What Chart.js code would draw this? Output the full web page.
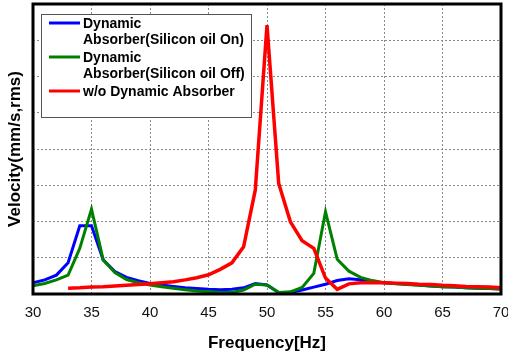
<!DOCTYPE html>
<html>
<head>
<meta charset="utf-8">
<script src="https://cdn.jsdelivr.net/npm/chart.js@4"></script>
<style>
  html, body { margin: 0; padding: 0; background: #fff; }
  #wrap { width: 508px; height: 360px; }
</style>
</head>
<body>
<div id="wrap"><canvas id="chart"></canvas></div>
<script>
const freqs = [30, 31, 32, 33, 34, 35, 36, 37, 38, 39, 40, 41, 42, 43, 44, 45, 46, 47, 48, 49,
  50, 51, 52, 53, 54, 55, 56, 57, 58, 59, 60, 61, 62, 63, 64, 65, 66, 67, 68, 69, 70];

const oilOn = [0.31, 0.39, 0.52, 0.86, 1.88, 1.88, 0.94, 0.62, 0.46, 0.37, 0.29, 0.25, 0.21, 0.17, 0.15, 0.13, 0.12, 0.13, 0.17, 0.29,
  0.25, 0.04, 0.04, 0.11, 0.19, 0.27, 0.37, 0.42, 0.39, 0.34, 0.31, 0.29, 0.27, 0.25, 0.22, 0.20, 0.19, 0.17, 0.16, 0.15, 0.14];

const oilOff = [0.23, 0.29, 0.39, 0.52, 1.26, 2.34, 0.94, 0.59, 0.40, 0.31, 0.25, 0.20, 0.16, 0.12, 0.08, 0.06, 0.04, 0.04, 0.11, 0.27,
  0.25, 0.04, 0.06, 0.18, 0.57, 2.27, 0.96, 0.63, 0.46, 0.37, 0.31, 0.28, 0.26, 0.24, 0.22, 0.20, 0.19, 0.17, 0.16, 0.15, 0.14];

// without absorber: measured from 33 Hz
const noAbsFreqs = freqs.slice(3);
const noAbs = [0.16, 0.17, 0.19, 0.20, 0.22, 0.24, 0.26, 0.28, 0.31, 0.34, 0.39, 0.45, 0.53, 0.68, 0.86, 1.30, 2.87,
  7.42, 3.05, 1.99, 1.47, 1.26, 0.44, 0.13, 0.28, 0.31, 0.32, 0.31, 0.30, 0.29, 0.27, 0.26, 0.24, 0.23, 0.21, 0.20, 0.19, 0.17];

const seriesNames = [
  ['Dynamic', 'Absorber(Silicon oil On)'],
  ['Dynamic', 'Absorber(Silicon oil Off)'],
  ['w/o Dynamic Absorber'],
];
const seriesColors = ['#0000ff', '#008000', '#ff0000'];
const xTicks = [30, 35, 40, 45, 50, 55, 60, 65, 70];

const FONT = '"Liberation Sans", Arial, sans-serif';

const pts = (xs, ys) => ys.map((y, i) => ({ x: xs[i], y }));

// frame + wrapped legend
const framePlugin = {
  id: 'frame',
  afterDraw(chart) {
    const { ctx, chartArea: a } = chart;
    ctx.save();
    ctx.strokeStyle = '#000';
    ctx.lineWidth = 3;
    ctx.strokeRect(a.left, a.top, a.right - a.left, a.bottom - a.top);

    // legend box
    ctx.fillStyle = '#fff';
    ctx.fillRect(41, 14, 210, 103);
    ctx.strokeStyle = '#555';
    ctx.lineWidth = 1;
    ctx.strokeRect(41.5, 14.5, 210, 103);

    ctx.font = 'bold 14px ' + FONT;
    ctx.textBaseline = 'middle';
    let y = 24;
    seriesNames.forEach((lines, i) => {
      ctx.strokeStyle = seriesColors[i];
      ctx.lineWidth = 3;
      ctx.beginPath();
      ctx.moveTo(49, y - 1);
      ctx.lineTo(80, y - 1);
      ctx.stroke();
      ctx.fillStyle = '#000';
      lines.forEach((t, j) => ctx.fillText(t, 83, y + j * 16.5));
      y += lines.length * 17;
    });
    ctx.restore();
  },
};

new Chart(document.getElementById('chart'), {
  type: 'line',
  data: {
    datasets: [
      { label: seriesNames[0].join(' '), data: pts(freqs, oilOn), borderColor: seriesColors[0], borderWidth: 3, order: 2 },
      { label: seriesNames[1].join(' '), data: pts(freqs, oilOff), borderColor: seriesColors[1], borderWidth: 3, order: 1 },
      { label: seriesNames[2].join(' '), data: pts(noAbsFreqs, noAbs), borderColor: seriesColors[2], borderWidth: 3.5, order: 0 },
    ].map(d => Object.assign(d, { pointRadius: 0, tension: 0, fill: false })),
  },
  options: {
    responsive: true,
    maintainAspectRatio: false,
    animation: false,
    layout: { padding: { top: 4, right: 7, left: 0, bottom: 0 } },
    plugins: { legend: { display: false }, tooltip: { enabled: false } },
    scales: {
      x: {
        type: 'linear',
        min: 30,
        max: 70,
        afterBuildTicks: (s) => { s.ticks = xTicks.map(v => ({ value: v })); },
        afterFit: (s) => { s.height = 66; s.paddingLeft = 0; s.paddingRight = 0; },
        grid: { color: '#8a8a8a', lineWidth: 1, drawTicks: false },
        border: { display: false, dash: [2, 2] },
        ticks: { color: '#111', font: { family: FONT, size: 15 }, padding: 10, maxRotation: 0 },
        title: {
          display: true,
          text: 'Frequency[Hz]',
          color: '#000',
          font: { family: FONT, size: 17, weight: 'bold' },
          padding: { top: 4, bottom: 6 },
        },
      },
      y: {
        min: 0,
        max: 8,
        afterFit: (s) => { s.width = 33; },
        grid: { color: '#8a8a8a', lineWidth: 1, drawTicks: false },
        border: { display: false, dash: [2, 2] },
        ticks: { display: false, stepSize: 1 },
        title: {
          display: true,
          text: 'Velocity(mm/s,rms)',
          color: '#000',
          font: { family: FONT, size: 17, weight: 'bold' },
          padding: { top: 5, bottom: 4 },
        },
      },
    },
  },
  plugins: [framePlugin],
});
</script>
</body>
</html>
